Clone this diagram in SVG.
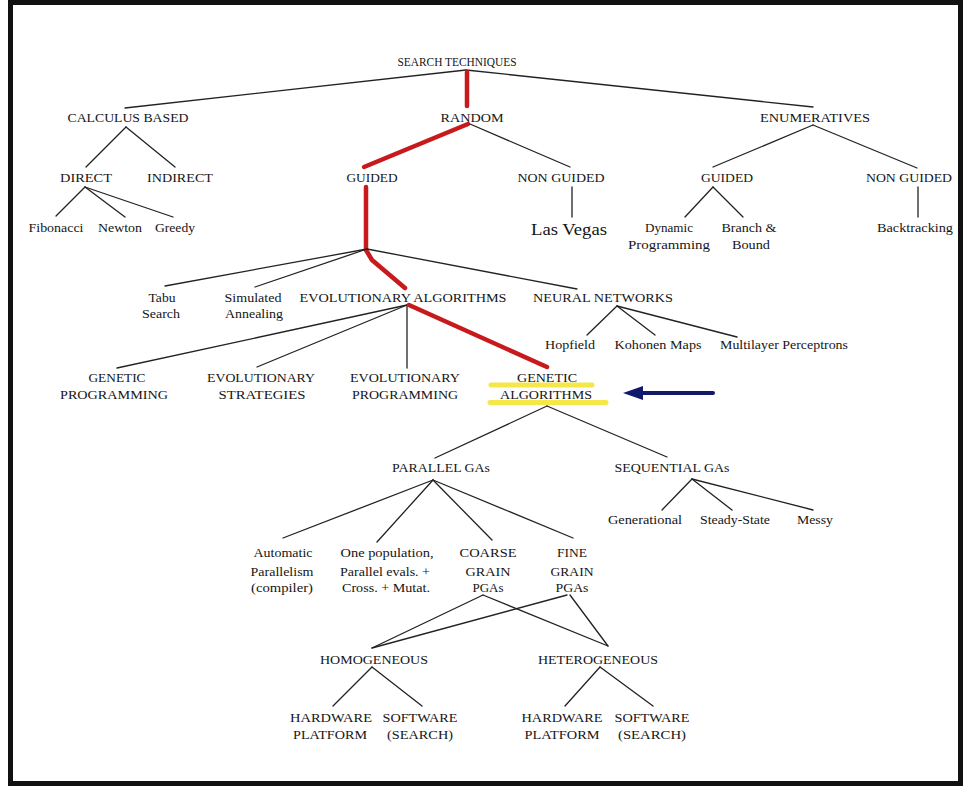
<svg xmlns="http://www.w3.org/2000/svg" width="964" height="787" viewBox="0 0 964 787">
<style>
.c{font-family:"Liberation Serif",serif;font-size:13px;text-anchor:middle;fill:#151515}
.l{font-family:"Liberation Serif",serif;font-size:12px;text-anchor:middle;fill:#151515}
.lv{font-family:"Liberation Serif",serif;font-size:16px;text-anchor:middle;fill:#151515}
.e line,.e path{stroke:#222;stroke-width:1.3;fill:none;stroke-linecap:round}
.e .r{stroke:#c8191c;stroke-width:4.5;stroke-linejoin:round}
</style>
<rect x="0" y="0" width="964" height="787" fill="#fff"/>
<rect id="frame" x="10.5" y="2.5" width="950" height="781" fill="none" stroke="#111" stroke-width="5"/>
<g id="highlight">
<line x1="491" y1="385" x2="592" y2="385" stroke="#f5e64a" stroke-width="5" stroke-linecap="round"/>
<line x1="490" y1="402.5" x2="606" y2="402.5" stroke="#f5e64a" stroke-width="5" stroke-linecap="round"/>
</g>
<g id="connectors" class="e">
<line x1="466" y1="70" x2="125" y2="108"/>
<line x1="466" y1="70" x2="813" y2="107"/>
<line class="r" x1="467" y1="72" x2="467" y2="106"/>
<line x1="126" y1="127" x2="86" y2="167"/>
<line x1="126" y1="127" x2="175" y2="167"/>
<line class="r" x1="468" y1="124" x2="364" y2="167"/>
<line x1="470" y1="124" x2="570" y2="167"/>
<line x1="813" y1="125" x2="713" y2="167"/>
<line x1="813" y1="125" x2="917" y2="168"/>
<line x1="85" y1="187" x2="56" y2="216"/>
<line x1="85" y1="187" x2="125" y2="217"/>
<line x1="85" y1="187" x2="173" y2="217"/>
<line x1="572" y1="187" x2="572" y2="217"/>
<line x1="713" y1="187" x2="685" y2="217"/>
<line x1="713" y1="187" x2="743" y2="217"/>
<line x1="918" y1="187" x2="918" y2="217"/>
<path class="r" d="M366,187 L366,250 L372,260 L405,288"/>
<line x1="367" y1="249" x2="165" y2="286"/>
<line x1="367" y1="249" x2="255" y2="287"/>
<line x1="367" y1="249" x2="577" y2="289"/>
<line x1="407" y1="305" x2="117" y2="368"/>
<line x1="407" y1="305" x2="257" y2="367"/>
<line x1="407" y1="305" x2="407" y2="368"/>
<line class="r" x1="409" y1="305" x2="547" y2="367"/>
<line x1="617" y1="306" x2="587" y2="335"/>
<line x1="617" y1="306" x2="655" y2="335"/>
<line x1="617" y1="306" x2="737" y2="337"/>
<line x1="547" y1="406" x2="435" y2="458"/>
<line x1="547" y1="406" x2="667" y2="457"/>
<line x1="433" y1="480" x2="283" y2="538"/>
<line x1="433" y1="480" x2="377" y2="542"/>
<line x1="433" y1="480" x2="492" y2="540"/>
<line x1="433" y1="480" x2="573" y2="538"/>
<line x1="692" y1="479" x2="662" y2="510"/>
<line x1="692" y1="479" x2="732" y2="510"/>
<line x1="692" y1="479" x2="813" y2="510"/>
<line x1="483" y1="595" x2="372" y2="648"/>
<line x1="483" y1="595" x2="608" y2="646"/>
<line x1="567" y1="595" x2="372" y2="648"/>
<line x1="570" y1="595" x2="608" y2="646"/>
<line x1="372" y1="667" x2="333" y2="706"/>
<line x1="372" y1="667" x2="422" y2="706"/>
<line x1="600" y1="667" x2="565" y2="706"/>
<line x1="600" y1="667" x2="653" y2="706"/>
</g>
<g id="arrow">
<line x1="713" y1="393" x2="638" y2="393" stroke="#0f1a6b" stroke-width="4" stroke-linecap="round"/>
<polygon points="623,393 643,386 643,400" fill="#0f1a6b"/>
</g>
<g id="n-search"><text class="c" x="457" y="66" textLength="119" lengthAdjust="spacingAndGlyphs">SEARCH TECHNIQUES</text></g>
<g id="n-calculus"><text class="c" x="128" y="122" textLength="121" lengthAdjust="spacingAndGlyphs">CALCULUS BASED</text></g>
<g id="n-random"><text class="c" x="472" y="122" textLength="63" lengthAdjust="spacingAndGlyphs">RANDOM</text></g>
<g id="n-enum"><text class="c" x="815" y="122" textLength="110" lengthAdjust="spacingAndGlyphs">ENUMERATIVES</text></g>
<g id="n-direct"><text class="c" x="86" y="182" textLength="52" lengthAdjust="spacingAndGlyphs">DIRECT</text></g>
<g id="n-indirect"><text class="c" x="180" y="182" textLength="66" lengthAdjust="spacingAndGlyphs">INDIRECT</text></g>
<g id="n-guided1"><text class="c" x="372" y="182" textLength="51" lengthAdjust="spacingAndGlyphs">GUIDED</text></g>
<g id="n-nonguided1"><text class="c" x="561" y="182" textLength="87" lengthAdjust="spacingAndGlyphs">NON GUIDED</text></g>
<g id="n-guided2"><text class="c" x="727" y="182" textLength="52" lengthAdjust="spacingAndGlyphs">GUIDED</text></g>
<g id="n-nonguided2"><text class="c" x="909" y="182" textLength="86" lengthAdjust="spacingAndGlyphs">NON GUIDED</text></g>
<g id="n-fib"><text class="l" x="56" y="232" textLength="55" lengthAdjust="spacingAndGlyphs">Fibonacci</text></g>
<g id="n-newton"><text class="l" x="120" y="232" textLength="44" lengthAdjust="spacingAndGlyphs">Newton</text></g>
<g id="n-greedy"><text class="l" x="175" y="232" textLength="40" lengthAdjust="spacingAndGlyphs">Greedy</text></g>
<g id="n-lasvegas"><text class="lv" x="569" y="235" textLength="76" lengthAdjust="spacingAndGlyphs">Las Vegas</text></g>
<g id="n-dynamic"><text class="l" x="669" y="232" textLength="48" lengthAdjust="spacingAndGlyphs">Dynamic</text><text class="l" x="669" y="249" textLength="82" lengthAdjust="spacingAndGlyphs">Programming</text></g>
<g id="n-branch"><text class="l" x="749" y="232" textLength="55" lengthAdjust="spacingAndGlyphs">Branch &amp;</text><text class="l" x="751" y="249" textLength="38" lengthAdjust="spacingAndGlyphs">Bound</text></g>
<g id="n-backtracking"><text class="l" x="915" y="232" textLength="76" lengthAdjust="spacingAndGlyphs">Backtracking</text></g>
<g id="n-tabu"><text class="l" x="162" y="302" textLength="27" lengthAdjust="spacingAndGlyphs">Tabu</text><text class="l" x="161" y="318" textLength="38" lengthAdjust="spacingAndGlyphs">Search</text></g>
<g id="n-sa"><text class="l" x="253" y="302" textLength="57" lengthAdjust="spacingAndGlyphs">Simulated</text><text class="l" x="254" y="318" textLength="58" lengthAdjust="spacingAndGlyphs">Annealing</text></g>
<g id="n-ea"><text class="c" x="403" y="302" textLength="207" lengthAdjust="spacingAndGlyphs">EVOLUTIONARY ALGORITHMS</text></g>
<g id="n-nn"><text class="c" x="603" y="302" textLength="140" lengthAdjust="spacingAndGlyphs">NEURAL NETWORKS</text></g>
<g id="n-hopfield"><text class="l" x="570" y="349" textLength="50" lengthAdjust="spacingAndGlyphs">Hopfield</text></g>
<g id="n-kohonen"><text class="l" x="658" y="349" textLength="87" lengthAdjust="spacingAndGlyphs">Kohonen Maps</text></g>
<g id="n-mlp"><text class="l" x="784" y="349" textLength="128" lengthAdjust="spacingAndGlyphs">Multilayer Perceptrons</text></g>
<g id="n-gp"><text class="c" x="117" y="382" textLength="57" lengthAdjust="spacingAndGlyphs">GENETIC</text><text class="c" x="114" y="399" textLength="108" lengthAdjust="spacingAndGlyphs">PROGRAMMING</text></g>
<g id="n-es"><text class="c" x="261" y="382" textLength="108" lengthAdjust="spacingAndGlyphs">EVOLUTIONARY</text><text class="c" x="262" y="399" textLength="87" lengthAdjust="spacingAndGlyphs">STRATEGIES</text></g>
<g id="n-ep"><text class="c" x="405" y="382" textLength="110" lengthAdjust="spacingAndGlyphs">EVOLUTIONARY</text><text class="c" x="405" y="399" textLength="106" lengthAdjust="spacingAndGlyphs">PROGRAMMING</text></g>
<g id="n-ga"><text class="c" x="547" y="382" textLength="60" lengthAdjust="spacingAndGlyphs">GENETIC</text><text class="c" x="546" y="399" textLength="92" lengthAdjust="spacingAndGlyphs">ALGORITHMS</text></g>
<g id="n-pga"><text class="c" x="441" y="472" textLength="98" lengthAdjust="spacingAndGlyphs">PARALLEL GAs</text></g>
<g id="n-sga"><text class="c" x="672" y="472" textLength="115" lengthAdjust="spacingAndGlyphs">SEQUENTIAL GAs</text></g>
<g id="n-auto"><text class="l" x="283" y="557" textLength="59" lengthAdjust="spacingAndGlyphs">Automatic</text><text class="l" x="282" y="576" textLength="63" lengthAdjust="spacingAndGlyphs">Parallelism</text><text class="l" x="282" y="592" textLength="62" lengthAdjust="spacingAndGlyphs">(compiler)</text></g>
<g id="n-onepop"><text class="l" x="387" y="557" textLength="93" lengthAdjust="spacingAndGlyphs">One population,</text><text class="l" x="385" y="576" textLength="90" lengthAdjust="spacingAndGlyphs">Parallel evals. +</text><text class="l" x="386" y="592" textLength="88" lengthAdjust="spacingAndGlyphs">Cross. + Mutat.</text></g>
<g id="n-coarse"><text class="c" x="488" y="557" textLength="57" lengthAdjust="spacingAndGlyphs">COARSE</text><text class="c" x="488" y="576" textLength="45" lengthAdjust="spacingAndGlyphs">GRAIN</text><text class="c" x="488" y="592" textLength="31" lengthAdjust="spacingAndGlyphs">PGAs</text></g>
<g id="n-fine"><text class="c" x="572" y="557" textLength="30" lengthAdjust="spacingAndGlyphs">FINE</text><text class="c" x="572" y="576" textLength="43" lengthAdjust="spacingAndGlyphs">GRAIN</text><text class="c" x="572" y="592" textLength="33" lengthAdjust="spacingAndGlyphs">PGAs</text></g>
<g id="n-gen"><text class="l" x="645" y="524" textLength="74" lengthAdjust="spacingAndGlyphs">Generational</text></g>
<g id="n-steady"><text class="l" x="735" y="524" textLength="70" lengthAdjust="spacingAndGlyphs">Steady-State</text></g>
<g id="n-messy"><text class="l" x="815" y="524" textLength="36" lengthAdjust="spacingAndGlyphs">Messy</text></g>
<g id="n-homo"><text class="c" x="374" y="664" textLength="108" lengthAdjust="spacingAndGlyphs">HOMOGENEOUS</text></g>
<g id="n-hetero"><text class="c" x="598" y="664" textLength="120" lengthAdjust="spacingAndGlyphs">HETEROGENEOUS</text></g>
<g id="n-hw1"><text class="c" x="331" y="722" textLength="82" lengthAdjust="spacingAndGlyphs">HARDWARE</text><text class="c" x="330" y="739" textLength="74" lengthAdjust="spacingAndGlyphs">PLATFORM</text></g>
<g id="n-sw1"><text class="c" x="420" y="722" textLength="75" lengthAdjust="spacingAndGlyphs">SOFTWARE</text><text class="c" x="420" y="739" textLength="66" lengthAdjust="spacingAndGlyphs">(SEARCH)</text></g>
<g id="n-hw2"><text class="c" x="562" y="722" textLength="81" lengthAdjust="spacingAndGlyphs">HARDWARE</text><text class="c" x="562" y="739" textLength="75" lengthAdjust="spacingAndGlyphs">PLATFORM</text></g>
<g id="n-sw2"><text class="c" x="652" y="722" textLength="75" lengthAdjust="spacingAndGlyphs">SOFTWARE</text><text class="c" x="652" y="739" textLength="68" lengthAdjust="spacingAndGlyphs">(SEARCH)</text></g>
</svg>
